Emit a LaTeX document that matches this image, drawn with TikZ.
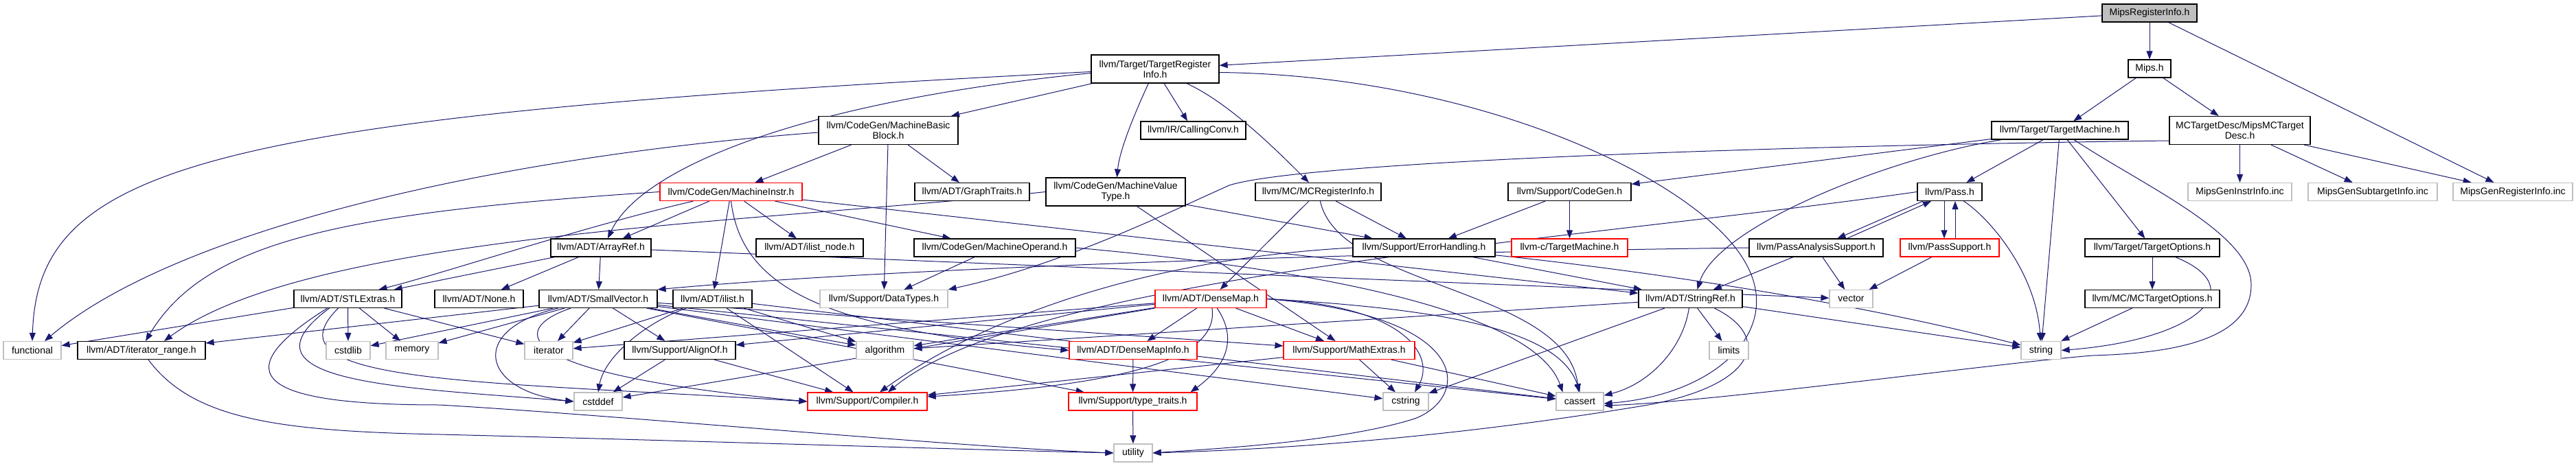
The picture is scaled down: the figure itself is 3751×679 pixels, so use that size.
\documentclass[tikz,border=0pt]{standalone}
\usepackage{fontspec}
\setmainfont{Liberation Sans}
\usepackage{tikz}
\usetikzlibrary{arrows.meta, positioning, backgrounds}
\definecolor{edgeblue}{HTML}{191970}
\definecolor{extgray}{HTML}{BFBFBF}

\begin{document}
\begin{tikzpicture}[x=1pt, y=-1pt,
    hdr/.style={draw=black, line width=1.2pt, fill=white, inner sep=0pt,
      minimum height=26pt, minimum width=#1, align=center,
      font=\fontsize{14}{15}\selectfont},
    trunc/.style={hdr=#1, draw=red},
    ext/.style={hdr=#1, draw=extgray},
    mainfile/.style={hdr=#1, fill=extgray},
    dep/.style={-{Triangle[length=12pt,width=9pt]}, draw=edgeblue, line width=1pt}]
  \useasboundingbox (0,0) rectangle (3751,679);

  \node[mainfile=138pt] (mri) at (3130,19) {MipsRegisterInfo.h};

  \node[hdr=186pt, minimum height=41pt] (tri) at (1682,100.5) {llvm/Target/TargetRegister\\Info.h};
  \node[hdr=62pt] (mips) at (3130,100) {Mips.h};

  \node[hdr=203pt, minimum height=41pt] (mbb) at (1293.5,190) {llvm/CodeGen/MachineBasic\\Block.h};
  \node[hdr=153pt] (cconv) at (1737.5,190) {llvm/IR/CallingConv.h};
  \node[hdr=199pt] (tm) at (2999.5,190) {llvm/Target/TargetMachine.h};
  \node[hdr=205pt, minimum height=41pt] (mcdesc) at (3261.5,190) {MCTargetDesc/MipsMCTarget\\Desc.h};

  \node[trunc=207pt] (minstr) at (1064.5,279.5) {llvm/CodeGen/MachineInstr.h};
  \node[hdr=167pt] (gtraits) at (1415.5,279.5) {llvm/ADT/GraphTraits.h};
  \node[hdr=203pt, minimum height=41pt] (mvt) at (1624.5,279.5) {llvm/CodeGen/MachineValue\\Type.h};
  \node[hdr=183pt] (mcreg) at (1919.5,279.5) {llvm/MC/MCRegisterInfo.h};
  \node[hdr=179pt] (cgen) at (2285.5,279.5) {llvm/Support/CodeGen.h};
  \node[hdr=94pt] (pass) at (2839,279.5) {llvm/Pass.h};
  \node[ext=151pt] (geninstr) at (3261.5,279.5) {MipsGenInstrInfo.inc};
  \node[ext=188pt] (gensub) at (3455,279.5) {MipsGenSubtargetInfo.inc};
  \node[ext=174pt] (genreg) at (3659,279.5) {MipsGenRegisterInfo.inc};

  \node[hdr=146pt] (aref) at (875,361) {llvm/ADT/ArrayRef.h};
  \node[hdr=156pt] (ilnode) at (1179,361) {llvm/ADT/ilist\_node.h};
  \node[hdr=235pt] (mop) at (1448.5,361) {llvm/CodeGen/MachineOperand.h};
  \node[hdr=207pt] (errh) at (2073.5,361) {llvm/Support/ErrorHandling.h};
  \node[trunc=169pt] (ctm) at (2285.5,361) {llvm-c/TargetMachine.h};
  \node[hdr=195pt] (pasup) at (2644.5,361) {llvm/PassAnalysisSupport.h};
  \node[trunc=144pt] (psup) at (2839,361) {llvm/PassSupport.h};
  \node[hdr=196pt] (topt) at (3134,361) {llvm/Target/TargetOptions.h};

  \node[hdr=157pt] (stlx) at (506.5,435.5) {llvm/ADT/STLExtras.h};
  \node[hdr=129pt] (none) at (697.5,435.5) {llvm/ADT/None.h};
  \node[hdr=172pt] (svec) at (871,435.5) {llvm/ADT/SmallVector.h};
  \node[hdr=115pt] (ilist) at (1037.5,435.5) {llvm/ADT/ilist.h};
  \node[ext=186pt] (dtypes) at (1287,435.5) {llvm/Support/DataTypes.h};
  \node[trunc=162pt] (dmap) at (1763,435.5) {llvm/ADT/DenseMap.h};
  \node[hdr=151pt] (sref) at (2461.5,435.5) {llvm/ADT/StringRef.h};
  \node[ext=63pt] (vector) at (2695.5,435.5) {vector};
  \node[hdr=196pt] (mcopt) at (3134,435.5) {llvm/MC/MCTargetOptions.h};

  \node[ext=84pt] (functional) at (47,510.5) {functional};
  \node[hdr=186pt] (itrange) at (206,510.5) {llvm/ADT/iterator\_range.h};
  \node[ext=64pt] (cstdlib) at (507,510.5) {cstdlib};
  \node[ext=76pt] (memory) at (600,510.5) {memory};
  \node[ext=70pt] (iterator) at (799,510.5) {iterator};
  \node[hdr=162pt] (alignof) at (990,510.5) {llvm/Support/AlignOf.h};
  \node[ext=83pt] (algorithm) at (1288.5,510.5) {algorithm};
  \node[trunc=186pt] (dminfo) at (1650,510.5) {llvm/ADT/DenseMapInfo.h};
  \node[trunc=191pt] (mathx) at (1964.5,510.5) {llvm/Support/MathExtras.h};
  \node[ext=57pt] (limits) at (2517.5,510.5) {limits};
  \node[ext=58pt] (string) at (2972,510.5) {string};

  \node[ext=70pt] (cstddef) at (871,585) {cstddef};
  \node[trunc=174pt] (compiler) at (1263,585) {llvm/Support/Compiler.h};
  \node[trunc=187pt] (ttraits) at (1649.5,585) {llvm/Support/type\_traits.h};
  \node[ext=66pt] (cstring) at (2047,585) {cstring};
  \node[ext=69pt] (cassert) at (2300.5,585) {cassert};

  \node[ext=56pt] (utility) at (1650,660) {utility};

  \begin{scope}[on background layer]
    \draw[dep] (mri) -- (tri);
    \draw[dep] (mri) -- (mips);
    \draw[dep] (mri) -- (genreg);
    \draw[dep] (mips) -- (tm);
    \draw[dep] (mips) -- (mcdesc);
    \draw[dep] (mcdesc) -- (geninstr);
    \draw[dep] (mcdesc) -- (gensub);
    \draw[dep] (mcdesc) -- (genreg);
    \draw[dep] ([yshift=-15pt]mcdesc.west) .. controls (2600,212) and (1900,235) .. (1790,270) .. controls (1700,310) and (1550,385) .. (dtypes.north east);

    \draw[dep] ([yshift=-4pt]tri.west) .. controls (300,170) and (55,240) .. (functional.north);
    \draw[dep] ([yshift=-6pt]tri.west) .. controls (1150,150) and (930,250) .. ([xshift=10pt]aref.north);
    \draw[dep] (tri) -- (mbb);
    \draw[dep] (tri) .. controls (1650,170) and (1630,220) .. (mvt);
    \draw[dep] (tri) -- (cconv);
    \draw[dep] (tri) .. controls (1790,150) and (1860,220) .. (mcreg);
    \draw[dep] ([yshift=-5pt]tri.east) .. controls (2150,110) and (2470,260) .. (2540,380) .. controls (2600,480) and (2500,575) .. ([yshift=-3pt]cassert.east);

    \draw[dep] (mbb) -- (minstr);
    \draw[dep] (mbb) -- (gtraits);
    \draw[dep] (mbb) -- (dtypes);
    \draw[dep] ([yshift=-3pt]mbb.west) .. controls (700,230) and (250,340) .. ([xshift=18pt]functional.north);

    \draw[dep] (minstr.west) .. controls (500,310) and (300,350) .. ([xshift=6pt]itrange.north);
    \draw[dep] ([xshift=-55pt]minstr.south) .. controls (850,330) and (640,400) .. ([xshift=45pt]stlx.north);
    \draw[dep] (minstr) -- (aref);
    \draw[dep] (minstr) -- (ilist);
    \draw[dep] (minstr.south) .. controls (1080,420) and (1200,480) .. (dminfo.west);
    \draw[dep] (minstr) -- (ilnode);
    \draw[dep] (minstr) -- (mop);
    \draw[dep] (minstr) -- (sref);

    \draw[dep] (mvt.west) .. controls (1100,325) and (450,340) .. ([xshift=33pt]itrange.north);
    \draw[dep] (mvt) -- (mathx);
    \draw[dep] (mvt) -- (errh);

    \draw[dep] (mcreg) -- (dmap);
    \draw[dep] (mcreg) -- (errh);
    \draw[dep] (mcreg) .. controls (1950,420) and (2280,420) .. (cassert);

    \draw[dep] (cgen) -- (errh);
    \draw[dep] (cgen) -- (ctm);

    \draw[dep] (tm) -- (cgen);
    \draw[dep] (tm) .. controls (2750,230) and (2500,330) .. ([xshift=10pt]sref.north);
    \draw[dep] (tm) -- (pass);
    \draw[dep] (tm) -- (string);
    \draw[dep] (tm) -- (topt);
    \draw[dep] (tm) .. controls (3120,270) and (3278,340) .. (3278,415) .. controls (3278,500) and (3150,515) .. (3047,518) .. controls (2900,530) and (2500,585) .. ([yshift=-6pt]cassert.east);

    \draw[dep] ([xshift=-39pt]pass.south) -- ([xshift=31pt]pasup.north);
    \draw[dep] ([xshift=-8pt]pass.south) -- ([xshift=-8pt]psup.north);
    \draw[dep] (pass) .. controls (2900,320) and (2965,400) .. (string);
    \draw[dep] (pass.west) .. controls (2300,350) and (1500,400) .. ([xshift=30pt]compiler.north);

    \draw[dep] ([xshift=45pt]pasup.north) -- ([xshift=-27pt]pass.south);
    \draw[dep] (pasup.west) .. controls (2000,368) and (1300,390) .. (svec.north east);
    \draw[dep] (pasup) -- (sref);
    \draw[dep] (pasup) -- (vector);

    \draw[dep] ([xshift=8pt]psup.north) -- ([xshift=8pt]pass.south);
    \draw[dep] (psup) -- (vector);

    \draw[dep] (topt) -- (mcopt);
    \draw[dep] (topt) .. controls (3280,420) and (3200,495) .. (string.east);
    \draw[dep] (mcopt) -- (string);

    \draw[dep] (sref) -- (algorithm);
    \draw[dep] (sref) .. controls (2450,510) and (2400,560) .. (cassert);
    \draw[dep] (sref) -- (cstring);
    \draw[dep] (sref) -- (limits);
    \draw[dep] (sref) -- (string);
    \draw[dep] ([xshift=35pt]sref.south) .. controls (2580,490) and (2560,560) .. (2400,590) .. controls (2100,640) and (1850,655) .. (utility.east);

    \draw[dep] (errh) -- (sref);
    \draw[dep] (errh.west) .. controls (1700,375) and (1450,450) .. ([xshift=18pt]compiler.north);
    \draw[dep] (errh) .. controls (2400,395) and (2700,440) .. (string);

    \draw[dep] (dmap) -- (dminfo);
    \draw[dep] (dmap) .. controls (1800,490) and (1790,530) .. ([xshift=-10pt]ttraits.north east);
    \draw[dep] (dmap) .. controls (1775,520) and (1650,560) .. ([yshift=7pt]compiler.east);
    \draw[dep] (dmap) -- (algorithm);
    \draw[dep] (dmap) -- (iterator);
    \draw[dep] (dmap) -- (alignof);
    \draw[dep] (dmap) -- (cstddef);
    \draw[dep] (dmap) -- (mathx);
    \draw[dep] (dmap.east) .. controls (2050,445) and (2090,520) .. ([xshift=13pt]cstring.north);
    \draw[dep] (dmap.east) .. controls (2100,450) and (2270,480) .. (cassert.north);
    \draw[dep] (dmap.east) .. controls (2150,460) and (2140,580) .. (2060,610) .. controls (1950,645) and (1750,655) .. (utility.east);

    \draw[dep] (mathx) -- (cstring);
    \draw[dep] (mathx) -- (cassert);
    \draw[dep] (mathx) -- (compiler);

    \draw[dep] (alignof) -- (compiler);
    \draw[dep] (alignof) -- (cstddef);

    \draw[dep] (ilist) .. controls (940,470) and (880,520) .. (cstddef.north);
    \draw[dep] (ilist) -- (iterator);
    \draw[dep] (ilist) -- (compiler);
    \draw[dep] (ilist) -- (algorithm);
    \draw[dep] (ilist) -- (cassert);

    \draw[dep] (svec) -- (itrange);
    \draw[dep] (svec) -- (memory);
    \draw[dep] (svec) -- (cstdlib);
    \draw[dep] (svec) -- (iterator);
    \draw[dep] (svec) -- (alignof);
    \draw[dep] (svec) .. controls (680,480) and (700,570) .. (cstddef.west);
    \draw[dep] (svec) .. controls (740,480) and (740,545) .. (compiler.west);
    \draw[dep] (svec) -- (algorithm);
    \draw[dep] (svec) -- (ttraits);
    \draw[dep] (svec) -- (mathx);
    \draw[dep] (svec) -- (cstring);
    \draw[dep] (svec) -- (cassert);

    \draw[dep] (stlx) -- (functional);
    \draw[dep] (stlx) -- (cstdlib);
    \draw[dep] (stlx) -- (memory);
    \draw[dep] (stlx) -- (iterator);
    \draw[dep] ([xshift=-14pt]stlx.south) .. controls (380,560) and (700,555) .. (compiler.west);
    \draw[dep] ([xshift=-27pt]stlx.south) .. controls (330,560) and (600,565) .. (cstddef.west);
    \draw[dep] ([xshift=-30pt]stlx.south) .. controls (300,560) and (420,590) .. (640,590) .. controls (900,605) and (1400,652) .. (utility.west);

    \draw[dep] (aref) -- (none);
    \draw[dep] (aref) -- (svec);
    \draw[dep] (aref) -- (vector);
    \draw[dep] (aref) -- (stlx);

    \draw[dep] ([xshift=10pt]itrange.south) .. controls (280,610) and (400,628) .. (640,633) .. controls (1000,642) and (1400,655) .. (utility.west);

    \draw[dep] (mop) -- (dtypes);
    \draw[dep] (mop.east) .. controls (2000,400) and (2240,470) .. ([xshift=-25pt]cassert.north);

    \draw[dep] (dminfo) -- (ttraits);
    \draw[dep] (ttraits) -- (utility);
  \end{scope}
\end{tikzpicture}
\end{document}
